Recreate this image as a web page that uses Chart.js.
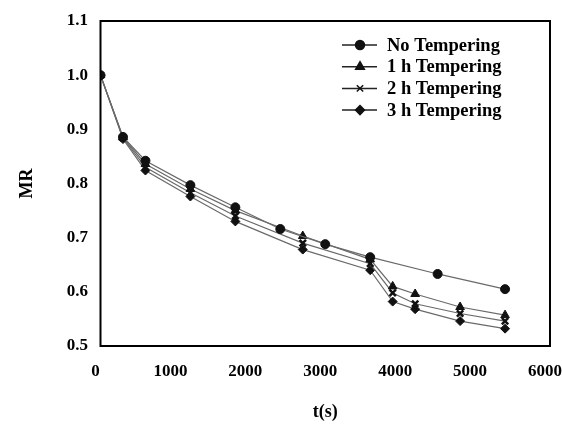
<!DOCTYPE html>
<html>
<head>
<meta charset="utf-8">
<script src="https://cdn.jsdelivr.net/npm/chart.js@4.4.1/dist/chart.umd.min.js"></script>
<style>
    html, body { margin: 0; padding: 0; background: #fff; overflow: hidden; }
    #wrap { width: 580px; height: 425px; }
</style>
</head>
<body>
<div id="wrap"><canvas id="mrChart" width="580" height="425"></canvas></div>
<script>
// time points (s)
const timeNoTemper = [0, 300, 600, 1200, 1800, 2400, 3000, 3600, 4500, 5400];
const timeTempered = [0, 300, 600, 1200, 1800, 2700, 3600, 3900, 4200, 4800, 5400];

// moisture ratio
const mrNoTemper = [1.0, 0.886, 0.842, 0.797, 0.756, 0.716, 0.688, 0.664, 0.633, 0.605];
const mr1h = [1.0, 0.885, 0.836, 0.790, 0.750, 0.703, 0.660, 0.610, 0.596, 0.572, 0.557];
const mr2h = [1.0, 0.884, 0.830, 0.783, 0.740, 0.690, 0.652, 0.598, 0.578, 0.560, 0.546];
const mr3h = [1.0, 0.882, 0.824, 0.776, 0.730, 0.678, 0.640, 0.582, 0.568, 0.546, 0.532];

const seriesLabels = ["No Tempering", "1 h Tempering", "2 h Tempering", "3 h Tempering"];
const seriesStyles = ["circle", "triangle", "crossRot", "rectRot"];

const xTicks = [0, 1000, 2000, 3000, 4000, 5000, 6000];
const yTicks = [0.5, 0.6, 0.7, 0.8, 0.9, 1.0, 1.1];

const FONT = "'Liberation Serif', 'Times New Roman', serif";

function toPoints(xs, ys) {
    return xs.map((x, i) => ({ x: x, y: ys[i] }));
}

function makeDataset(i, xs, ys) {
    const style = seriesStyles[i];
    return {
        label: seriesLabels[i],
        data: toPoints(xs, ys),
        borderColor: "#6a6a6a",
        borderWidth: 1.2,
        pointStyle: style,
        pointRadius: style === "triangle" ? 5 : 4.5,
        pointBackgroundColor: "#111",
        pointBorderColor: "#111",
        pointBorderWidth: style === "crossRot" ? 2.5 : 1,
        fill: false,
        tension: 0,
    };
}

// black frame around the plot and a legend drawn inside it
const framePlugin = {
    id: "frame",
    afterDraw(chart) {
        const { ctx, chartArea } = chart;
        ctx.save();
        ctx.strokeStyle = "#000";
        ctx.lineWidth = 2;
        ctx.strokeRect(chartArea.left, chartArea.top, chartArea.right - chartArea.left, chartArea.bottom - chartArea.top);

        // legend
        const lx = 342, tx = 387;
        let ly = 45;
        ctx.font = "bold 18.5px " + FONT;
        ctx.textBaseline = "middle";
        chart.data.datasets.forEach((ds) => {
            ctx.strokeStyle = "#222";
            ctx.lineWidth = 1.5;
            ctx.beginPath();
            ctx.moveTo(lx, ly);
            ctx.lineTo(lx + 35, ly);
            ctx.stroke();
            ctx.fillStyle = "#111";
            ctx.strokeStyle = "#111";
            Chart.helpers.drawPoint(ctx, {
                pointStyle: ds.pointStyle,
                radius: ds.pointRadius,
                borderWidth: ds.pointBorderWidth,
                rotation: 0,
            }, lx + 18, ly);
            ctx.fillStyle = "#000";
            ctx.fillText(ds.label, tx, ly + 1);
            ly += 21.7;
        });
        ctx.restore();
    },
};

const ctx = document.getElementById("mrChart").getContext("2d");

new Chart(ctx, {
    type: "line",
    data: {
        datasets: [
            makeDataset(0, timeNoTemper, mrNoTemper),
            makeDataset(1, timeTempered, mr1h),
            makeDataset(2, timeTempered, mr2h),
            makeDataset(3, timeTempered, mr3h),
        ],
    },
    options: {
        responsive: false,
        animation: false,
        layout: { padding: { top: 21, right: 30, left: 0, bottom: 0 } },
        plugins: {
            legend: { display: false },
            tooltip: { enabled: false },
        },
        scales: {
            x: {
                type: "linear",
                min: 0,
                max: 6000,
                afterBuildTicks: (axis) => {
                    axis.ticks = xTicks.map((v) => ({ value: v }));
                },
                afterFit: (axis) => {
                    axis.height = 79;
                },
                grid: { display: false },
                border: { display: false },
                ticks: {
                    color: "#000",
                    padding: 7,
                    labelOffset: -5,
                    maxRotation: 0,
                    autoSkip: false,
                    callback: (v) => String(v),
                    font: { family: FONT, size: 17, weight: "bold" },
                },
                title: {
                    display: true,
                    text: "t(s)",
                    color: "#000",
                    padding: { top: 0, bottom: 2 },
                    font: { family: FONT, size: 18, weight: "bold" },
                },
            },
            y: {
                min: 0.5,
                max: 1.1,
                afterBuildTicks: (axis) => {
                    axis.ticks = yTicks.map((v) => ({ value: v }));
                },
                afterFit: (axis) => {
                    axis.width = 100.5;
                },
                grid: { display: false },
                border: { display: false },
                ticks: {
                    color: "#000",
                    padding: 4.5,
                    autoSkip: false,
                    callback: (v) => Number(v).toFixed(1),
                    font: { family: FONT, size: 17, weight: "bold" },
                },
                title: {
                    display: true,
                    text: "MR",
                    color: "#000",
                    padding: { top: 17, bottom: 0 },
                    font: { family: FONT, size: 18, weight: "bold" },
                },
            },
        },
    },
    plugins: [framePlugin],
});
</script>
</body>
</html>
